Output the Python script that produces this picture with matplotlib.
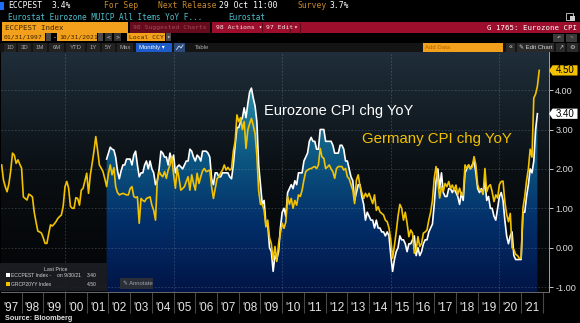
import numpy as np
import matplotlib
matplotlib.use("Agg")
import matplotlib.pyplot as plt
from matplotlib.patches import Rectangle, Polygon
from matplotlib.lines import Line2D
from matplotlib.colors import LinearSegmentedColormap
from matplotlib.transforms import blended_transform_factory
from matplotlib.ticker import FormatStrFormatter

plt.rcParams['font.family'] = ['Liberation Sans', 'DejaVu Sans']

# ---------------- data ----------------
germany_first_month = (1997, 1)
germany_yoy = [
    2.10, 1.72, 1.55, 1.42, 1.62, 1.95, 2.40, 2.35, 2.14, 2.23, 2.12, 2.02,   # 1997
    1.29, 1.25, 1.21, 1.36, 1.33, 1.29, 0.90, 0.65, 0.42, 0.40, 0.37, 0.25,   # 1998
    0.11, 0.11, 0.36, 0.58, 0.55, 0.60, 0.66, 0.74, 0.79, 0.83, 1.05, 1.55,   # 1999
    1.68, 1.51, 1.05, 1.00, 1.00, 1.27, 1.25, 1.08, 1.46, 1.51, 1.70, 1.89,   # 2000
    1.38, 1.85, 2.14, 2.45, 2.82, 2.48, 2.10, 2.02, 1.93, 1.75, 1.55, 1.89,   # 2001
    2.10, 1.85, 2.03, 1.55, 1.40, 1.34, 1.36, 1.38, 1.36, 1.34, 1.34, 1.50,   # 2002
    1.55, 1.30, 1.27, 1.29, 0.62, 1.25, 1.20, 1.17, 1.25, 1.27, 1.29, 1.08,   # 2003
    0.95, 0.70, 1.72, 1.93, 1.85, 1.80, 1.93, 1.76, 1.97, 2.10, 2.31, 1.85,   # 2004
    1.51, 2.01, 1.76, 1.46, 1.50, 1.55, 1.68, 1.80, 1.46, 1.85, 1.63, 1.46,   # 2005
    1.89, 1.63, 1.80, 1.95, 2.01, 1.93, 1.95, 1.97, 1.55, 1.25, 1.50, 1.75,   # 2006
    1.80, 1.90, 1.97, 2.10, 1.97, 2.04, 1.97, 2.00, 2.45, 2.70, 3.37, 3.20,   # 2007
    3.30, 3.00, 3.20, 2.52, 2.99, 3.15, 3.28, 3.10, 2.90, 2.35, 1.45, 1.10,   # 2008
    1.10, 0.95, 0.53, 0.70, 0.25, 0.10, -0.31, 0.03, -0.35, 0.10, 0.37, 0.62, # 2009
    0.49, 0.65, 1.30, 1.10, 1.25, 1.00, 1.20, 1.08, 1.34, 1.30, 1.46, 1.72,   # 2010
    1.93, 1.97, 2.00, 2.01, 2.04, 2.06, 2.01, 2.10, 2.52, 2.30, 2.27, 2.01,   # 2011
    2.05, 2.10, 2.00, 1.93, 1.76, 2.01, 2.06, 2.06, 2.06, 1.97, 2.01, 1.80,   # 2012
    1.75, 1.60, 1.46, 1.12, 1.72, 1.85, 1.55, 1.40, 1.25, 1.38, 1.29, 1.38,   # 2013
    1.25, 1.12, 1.34, 0.95, 1.04, 0.91, 0.87, 0.83, 0.70, 0.66, 0.50, 0.20,   # 2014
    -0.27, 0.05, 0.40, 0.80, 1.10, 1.00, 0.70, 0.90, 0.62, 0.28, 0.45, 0.37,  # 2015
    -0.14, -0.06, 0.28, 0.03, 0.11, 0.37, 0.40, 0.45, 0.70, 0.90, 1.20, 1.76, # 2016
    2.06, 1.68, 1.26, 1.55, 1.42, 1.63, 1.55, 1.68, 1.51, 1.59, 1.46, 1.59,   # 2017
    1.34, 1.51, 1.34, 1.34, 2.10, 2.01, 2.10, 2.01, 2.05, 2.31, 2.10, 1.60,   # 2018
    1.46, 1.46, 1.35, 2.01, 1.42, 1.55, 1.60, 1.42, 1.17, 1.34, 1.26, 1.60,   # 2019
    1.68, 1.69, 1.17, 0.85, 0.66, 0.87, 0.00, -0.05, -0.17, -0.20, -0.27, -0.27,  # 2020
    1.00, 1.30, 1.70, 2.00, 2.50, 2.30, 3.80, 3.90, 4.10, 4.50,               # 2021
]

eurozone_first_month = (2001, 11)
eurozone_yoy = [
    2.25, 2.40,                                                               # 2001
    2.55, 2.50, 2.48, 2.30, 1.95, 1.75, 1.95, 2.10, 2.10, 2.25, 2.25, 2.25,   # 2002
    2.10, 2.35, 2.45, 2.10, 1.80, 1.90, 1.90, 2.10, 2.20, 2.00, 2.20, 2.00,   # 2003
    1.90, 1.60, 1.70, 2.00, 2.45, 2.40, 2.30, 2.30, 2.10, 2.40, 2.20, 2.35,   # 2004
    1.90, 2.05, 2.10, 2.05, 2.00, 2.10, 2.20, 2.20, 2.50, 2.45, 2.30, 2.20,   # 2005
    2.35, 2.30, 2.20, 2.45, 2.45, 2.45, 2.40, 2.30, 1.75, 1.60, 1.90, 1.90,   # 2006
    1.80, 1.80, 1.90, 1.90, 1.90, 1.90, 1.80, 1.75, 2.10, 2.60, 3.05, 3.05,   # 2007
    3.20, 3.30, 3.55, 3.30, 3.65, 3.95, 4.05, 3.80, 3.60, 3.20, 2.10, 1.60,   # 2008
    1.10, 1.20, 0.60, 0.60, 0.00, -0.10, -0.60, -0.20, -0.30, -0.10, 0.50, 0.90,  # 2009
    1.00, 0.80, 1.40, 1.50, 1.60, 1.50, 1.70, 1.60, 1.90, 1.90, 1.90, 2.20,   # 2010
    2.30, 2.40, 2.70, 2.80, 2.70, 2.70, 2.50, 2.50, 3.00, 3.00, 3.00, 2.70,   # 2011
    2.70, 2.70, 2.70, 2.60, 2.40, 2.40, 2.40, 2.60, 2.60, 2.50, 2.20, 2.20,   # 2012
    2.00, 1.80, 1.70, 1.20, 1.40, 1.60, 1.60, 1.30, 1.10, 0.70, 0.90, 0.80,   # 2013
    0.70, 0.70, 0.50, 0.70, 0.50, 0.50, 0.40, 0.40, 0.30, 0.40, 0.30, -0.20,  # 2014
    -0.60, -0.30, -0.10, 0.00, 0.30, 0.20, 0.20, 0.10, -0.10, 0.10, 0.10, 0.20,  # 2015
    0.30, -0.20, 0.00, -0.20, -0.10, 0.10, 0.20, 0.20, 0.40, 0.50, 0.60, 1.10,  # 2016
    1.70, 2.00, 1.50, 1.90, 1.40, 1.30, 1.30, 1.50, 1.50, 1.40, 1.50, 1.40,   # 2017
    1.30, 1.10, 1.40, 1.20, 1.90, 2.00, 2.10, 2.00, 2.10, 2.20, 1.90, 1.50,   # 2018
    1.40, 1.50, 1.40, 1.70, 1.20, 1.30, 1.00, 1.00, 0.80, 0.70, 1.00, 1.30,   # 2019
    1.40, 1.20, 0.70, 0.30, 0.10, 0.30, 0.40, -0.20, -0.30, -0.30, -0.30, -0.30,  # 2020
    0.90, 0.90, 1.30, 1.60, 2.00, 1.90, 2.20, 3.00, 3.40,                     # 2021
]

label_years = list(range(1997, 2022))
year_labels = ["'97", "'98", "'99", "'00", "'01", "'02", "'03", "'04", "'05",
               "'06", "'07", "'08", "'09", "'10", "'11", "'12", "'13", "'14",
               "'15", "'16", "'17", "'18", "'19", "'20", "'21"]
y_ticks = [-1, 0, 1, 2, 3, 4]
grid_years = [2000, 2005, 2010, 2015, 2020]
series_titles = ['Eurozone CPI chg YoY', 'Germany CPI chg YoY']
tickers = ['ECCPEST Index', 'GRCP20YY Index']
last_date = '9/30/21'


def month_axis(first, n):
    y, m = first
    return y + (m + np.arange(n)) / 12.0


de_t = month_axis(germany_first_month, len(germany_yoy))
ez_t = month_axis(eurozone_first_month, len(eurozone_yoy))

YEL = '#f2c200'
ORANGE = '#f3a01c'
ORANGE_T = '#c98a2c'
CYAN = '#4fc0d0'
DARK_T = '#3d2500'
MONO = ['DejaVu Sans Mono', 'DejaVu Sans']
SANS = ['Liberation Sans', 'DejaVu Sans']

# ---------------- figure ----------------
W, H = 580, 323
fig = plt.figure(figsize=(W / 100, H / 100), dpi=100)
fig.patch.set_facecolor('black')


def fx(px):
    return px / W


def fy(py):
    return 1 - py / H


def rect(x0, y0, x1, y1, color, **kw):
    fig.patches.append(Rectangle((fx(x0), fy(y1)), (x1 - x0) / W, (y1 - y0) / H,
                                 transform=fig.transFigure, facecolor=color,
                                 edgecolor=kw.pop('ec', 'none'), **kw))


def txt(x, y, s, color, size=5.5, ha='left', family=None, **kw):
    fig.text(fx(x), fy(y), s, color=color, fontsize=size, ha=ha, va='center',
             family=family if family else MONO, **kw)


# plot area (pixel layout)
L, R, T, B = 1, 549, 52, 292
ax = fig.add_axes([fx(L), fy(B), (R - L) / W, (B - T) / H])
XMIN = 2000 + (L - 65) / 21.72
XMAX = 2000 + (R - 65) / 21.72
YMIN = (247.7 - B) / 39.4
YMAX = (247.7 - T) / 39.4

grad = np.linspace(0, 1, 256).reshape(-1, 1)
bg_cmap = LinearSegmentedColormap.from_list('bg', ['#030405', '#0a0f13', '#1f2e3a'])
ax.imshow(grad, extent=[XMIN, XMAX, YMIN, YMAX], origin='lower', aspect='auto',
          cmap=bg_cmap, zorder=0, interpolation='bilinear')

fill_cmap = LinearSegmentedColormap.from_list(
    'fill', [(0.0, '#011446'), (0.3, '#03306a'), (0.55, '#0c5580'),
             (0.75, '#1e7898'), (1.0, '#48a6c0')])
im = ax.imshow(grad, extent=[XMIN, XMAX, YMIN, YMAX], origin='lower', aspect='auto',
               cmap=fill_cmap, zorder=1, interpolation='bilinear')
verts = [(ez_t[0], YMIN)] + list(zip(ez_t, eurozone_yoy)) + [(ez_t[-1], YMIN)]
clip = Polygon(verts, closed=True, facecolor='none', edgecolor='none',
               transform=ax.transData)
ax.add_patch(clip)
im.set_clip_path(clip)

for v in y_ticks:
    ax.axhline(v, color='#9fb0bd', alpha=0.3, lw=0.6, ls=(0, (2, 2)), zorder=2)
for yr in grid_years:
    ax.axvline(yr, color='#9fb0bd', alpha=0.3, lw=0.6, ls=(0, (2, 2)), zorder=2)

ax.plot(ez_t, eurozone_yoy, color='white', lw=1.2, zorder=4, solid_joinstyle='round')
ax.plot(de_t, germany_yoy, color=YEL, lw=1.2, zorder=5, solid_joinstyle='round')

# series titles
ax.text(2009.16, 3.38, series_titles[0], color='white', fontsize=10.5,
        va='baseline', ha='left', zorder=6)
ax.text(2013.67, 2.645, series_titles[1], color=YEL, fontsize=10.8,
        va='baseline', ha='left', zorder=6)

ax.set_xlim(XMIN, XMAX)
ax.set_ylim(YMIN, YMAX)

# axes styling
ax.set_xticks([y + 0.5 for y in label_years])
ax.set_xticklabels(year_labels)
ax.set_xticks(list(range(1998, 2023)), minor=True)
ax.tick_params(axis='x', which='major', length=0, pad=7.0, labelsize=8.5,
               labelcolor='#e6e6e6')
ax.tick_params(axis='x', which='minor', length=15, width=0.8, color='#474747',
               direction='out')
ax.yaxis.tick_right()
ax.set_yticks(y_ticks)
ax.yaxis.set_major_formatter(FormatStrFormatter('%.2f'))
ax.tick_params(axis='y', length=3, width=0.7, color='#c8c8c8', pad=1.5,
               labelsize=6.6, labelcolor='#dcdcdc')
for s in ('top', 'left'):
    ax.spines[s].set_visible(False)
ax.spines['right'].set_color('#a0a0a0')
ax.spines['right'].set_linewidth(0.7)
ax.spines['bottom'].set_color('#6a6a6a')
ax.spines['bottom'].set_linewidth(0.7)

# last-value tags on the right axis
tb = blended_transform_factory(ax.transAxes, ax.transData)
for val, fc in ((germany_yoy[-1], YEL), (eurozone_yoy[-1], 'white')):
    h = 0.13
    tag = Polygon([(1.0, val), (1.0065, val + h), (1.052, val + h),
                   (1.052, val - h), (1.0065, val - h)], closed=True,
                  transform=tb, facecolor=fc, edgecolor='none', clip_on=False,
                  zorder=10)
    ax.add_patch(tag)
    ax.text(1.029, val, f'{val:.2f}', transform=tb, color='black', fontsize=7,
            ha='center', va='center', zorder=11, clip_on=False)

# legend box
rect(0, 263, 107, 291, '#1b1e23', alpha=0.92, zorder=5)
fig.text(fx(56), fy(269.5), 'Last Price', color='#cfcfcf', fontsize=3.8,
         ha='center', va='center', family=SANS, zorder=7)
rect(6, 273, 9.5, 277, 'white', zorder=6)
rect(6, 282, 9.5, 286, YEL, zorder=6)
fig.text(fx(11), fy(275.2), f'{tickers[0]} -', color='#d5d5d5', fontsize=3.6,
         va='center', family=SANS, zorder=7)
fig.text(fx(57), fy(275.2), f'on {last_date}', color='#d5d5d5', fontsize=3.6,
         va='center', family=SANS, zorder=7)
fig.text(fx(97), fy(275.2), f'{eurozone_yoy[-1]:.2f}', color='#d5d5d5', fontsize=3.6,
         va='center', ha='right', family=SANS, zorder=7)
fig.text(fx(11), fy(284.2), tickers[1], color='#d5d5d5', fontsize=3.6,
         va='center', family=SANS, zorder=7)
fig.text(fx(97), fy(284.2), f'{germany_yoy[-1]:.2f}', color='#d5d5d5', fontsize=3.6,
         va='center', ha='right', family=SANS, zorder=7)

# annotate button
rect(120, 278, 153, 289, '#2a2f37', zorder=5)
fig.text(fx(123), fy(283.5), '\u270e Annotate', color='#a0a6ad', fontsize=4.2,
         va='center', family=SANS, zorder=7)

# source
fig.text(fx(5), fy(319), 'Source: Bloomberg', color='#e0e0e0', fontsize=5.2,
         fontweight='bold', va='center', family=SANS)

# ---------------- header ----------------
# row 1
rect(0, 2, 4, 10, '#1f6bff')
txt(8, 6, 'ECCPEST', 'white', size=5.8)
txt(52, 6, '3.4%', 'white', size=5.8)
txt(104, 6, 'For Sep', ORANGE_T, size=5.8)
txt(158, 6, 'Next Release', ORANGE_T, size=5.8)
txt(219, 6, '29 Oct 11:00', 'white', size=5.8)
txt(298, 6, 'Survey', ORANGE_T, size=5.8)
txt(330, 6, '3.7%', 'white', size=5.8)
# row 2
txt(8, 17, 'Eurostat Eurozone MUICP All Items YoY F...', CYAN)
txt(228, 17, 'Eurostat', CYAN)
rect(566, 13, 573, 19.5, 'none', ec='#d0d0d0', lw=0.6)
rect(570, 16.5, 575, 21, '#d0d0d0')
# row 3
rect(2, 22.5, 128, 32.5, ORANGE)
txt(5, 27.6, 'ECCPEST Index', DARK_T, size=5.3)
rect(130, 22.5, 210, 32.5, '#650b1c')
txt(133, 27.6, '98 Suggested Charts', '#a0485a', size=4.6)
rect(212, 22.5, 580, 32.5, '#9c0e2b')
txt(216, 27.6, '98 Actions \u25be', '#f4e4e6', size=4.6)
txt(266, 27.6, '97 Edit', '#f4e4e6', size=4.6)
txt(293, 27.6, '\u25be', '#f4e4e6', size=4.6)
for sx in (262, 290, 300):
    fig.lines.append(Line2D([fx(sx), fx(sx)], [fy(22.5), fy(32.5)],
                            transform=fig.transFigure, color='#5e0818', lw=0.7))
txt(577, 27.6, 'G 1765: Eurozone CPI', 'white', size=5.3, ha='right')
# row 4
rect(2, 33.5, 45, 41, ORANGE)
txt(4, 37.4, '01/31/1997', DARK_T, size=4.6)
rect(46, 33.5, 51, 41, '#4a4a4a')
txt(53, 37.4, '-', 'white', size=4.6)
rect(57, 33.5, 97, 41, ORANGE)
txt(59, 37.4, '10/31/2021', DARK_T, size=4.6)
rect(98, 33.5, 103, 41, '#4a4a4a')
rect(105, 33.5, 112, 41, '#333333')
txt(108.5, 37.4, '<', '#d0d0d0', size=4.6, ha='center')
rect(114, 33.5, 121, 41, '#333333')
txt(117.5, 37.4, '>', '#d0d0d0', size=4.6, ha='center')
rect(127, 33.5, 165, 41, ORANGE)
txt(129, 37.4, 'Local CCY', DARK_T, size=4.6)
rect(166, 33.5, 171, 41, '#4a4a4a')
txt(168.5, 37.4, '\u25be', '#d0d0d0', size=4.2, ha='center')
rect(553, 33.5, 564, 41.5, '#3a3a3a')
txt(558.5, 37.5, '\u21b6', '#c8c8c8', size=4.6, ha='center')
rect(566, 33.5, 577, 41.5, '#3a3a3a')
txt(571.5, 37.5, '\u21b7', '#808080', size=4.6, ha='center')
# row 5
rect(0, 42.5, 580, 52, '#141414')
for (a, b, lab) in ((4, 16, '1D'), (18, 31, '3D'), (33, 47, '1M'), (49, 64, '6M'),
                    (66, 85, 'YTD'), (87, 100, '1Y'), (102, 115, '5Y'),
                    (117, 133, 'Max')):
    rect(a, 43, b, 51.5, '#222222')
    txt((a + b) / 2, 47.4, lab, '#a8a8a8', size=4.3, ha='center', family=SANS)
rect(136, 43, 172, 51.5, '#1d5cc8')
txt(139, 47.4, 'Monthly \u25be', 'white', size=4.3, family=SANS)
rect(174, 43, 185, 51.5, '#2b4a7a')
fig.lines.append(Line2D([fx(176.5), fx(179), fx(181), fx(183)],
                        [fy(49.5), fy(46), fy(48), fy(45)],
                        transform=fig.transFigure, color='#cfe0ff', lw=0.6))
txt(195, 47.4, 'Table', '#a8a8a8', size=4.3, family=SANS)
rect(423, 43, 503, 51.5, ORANGE)
txt(425, 47.4, 'Add Data', '#b06400', size=4.3, family=SANS)
rect(506, 43, 515, 51.5, '#2a2a2a')
txt(510.5, 47.2, '\u00ab', '#d0d0d0', size=5, ha='center', family=SANS)
rect(517, 43, 554, 51.5, '#2a2a2a')
txt(519, 47.4, '\u270e Edit Chart', '#d8d8d8', size=4.3, family=SANS)
rect(556, 43, 565, 51.5, '#2a2a2a')
txt(560.5, 47.4, '\u2197', '#d0d0d0', size=4.3, ha='center', family=SANS)
rect(567, 43, 578, 51.5, '#2a2a2a')
txt(572.5, 47.4, '\u2699', '#d0d0d0', size=4.6, ha='center', family=SANS)

fig.savefig('out.png', dpi=100, facecolor='black')
